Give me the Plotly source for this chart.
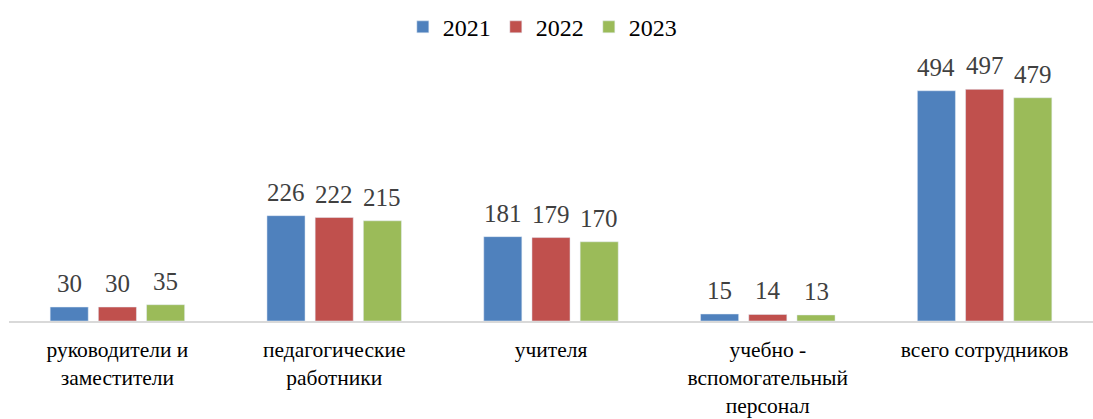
import plotly.graph_objects as go

categories = [
    "руководители и<br>заместители",
    "педагогические<br>работники",
    "учителя",
    "учебно -<br>вспомогательный<br>персонал",
    "всего сотрудников",
]
years = ["2021", "2022", "2023"]
values_2021 = [30, 226, 181, 15, 494]
values_2022 = [30, 222, 179, 14, 497]
values_2023 = [35, 215, 170, 13, 479]
colors = ["#4F81BD", "#C0504D", "#9BBB59"]

serif = "Liberation Serif"
series = [values_2021, values_2022, values_2023]


def serif_text(s):
    # set the family inline on every line so it survives the tick/legend styling
    return "<br>".join(
        f"<span style='font-family:{serif}'>{part}</span>" for part in s.split("<br>")
    )


fig = go.Figure()
for name, vals, color in zip(years, series, colors):
    fig.add_trace(
        go.Bar(
            name=serif_text(name),
            x=categories,
            y=vals,
            marker_color=color,
            cliponaxis=False,
        )
    )

# value labels above each bar, nudged sideways to sit over its bar in the group
slot_px = 48.2
for i, vals in enumerate(series):
    for cat, v in zip(categories, vals):
        fig.add_annotation(
            x=cat,
            y=v,
            text=str(v),
            showarrow=False,
            yanchor="bottom",
            yshift=8,
            xshift=(i - 1) * slot_px,
            font=dict(family=serif, size=25, color="#404040"),
        )

fig.update_layout(
    width=1093,
    height=419,
    barmode="group",
    bargap=0.333,
    bargroupgap=0.21,
    plot_bgcolor="white",
    paper_bgcolor="white",
    margin=dict(l=9, r=0, t=60, b=98, autoexpand=False),
    font=dict(family=serif, size=22, color="#000000"),
    legend=dict(
        orientation="h",
        x=0.492,
        xanchor="center",
        y=0.935,
        yref="container",
        yanchor="middle",
        font=dict(family=serif, size=24, color="#000000"),
        itemwidth=30,
    ),
)
fig.update_xaxes(
    showline=True,
    linecolor="#D9D9D9",
    linewidth=2,
    ticks="",
    automargin=False,
    ticklabelstandoff=8,
    tickmode="array",
    tickvals=categories,
    ticktext=[serif_text(c) for c in categories],
    tickfont=dict(family=serif, size=21.5, color="#000000"),
)
fig.update_yaxes(
    range=[0, 560],
    visible=False,
    showgrid=False,
)

# drop the default page margin so the figure sits at the window's corner
fig.write_html(
    "out.html",
    config={"displayModeBar": False},
    post_script="document.body.style.margin='0';",
)
